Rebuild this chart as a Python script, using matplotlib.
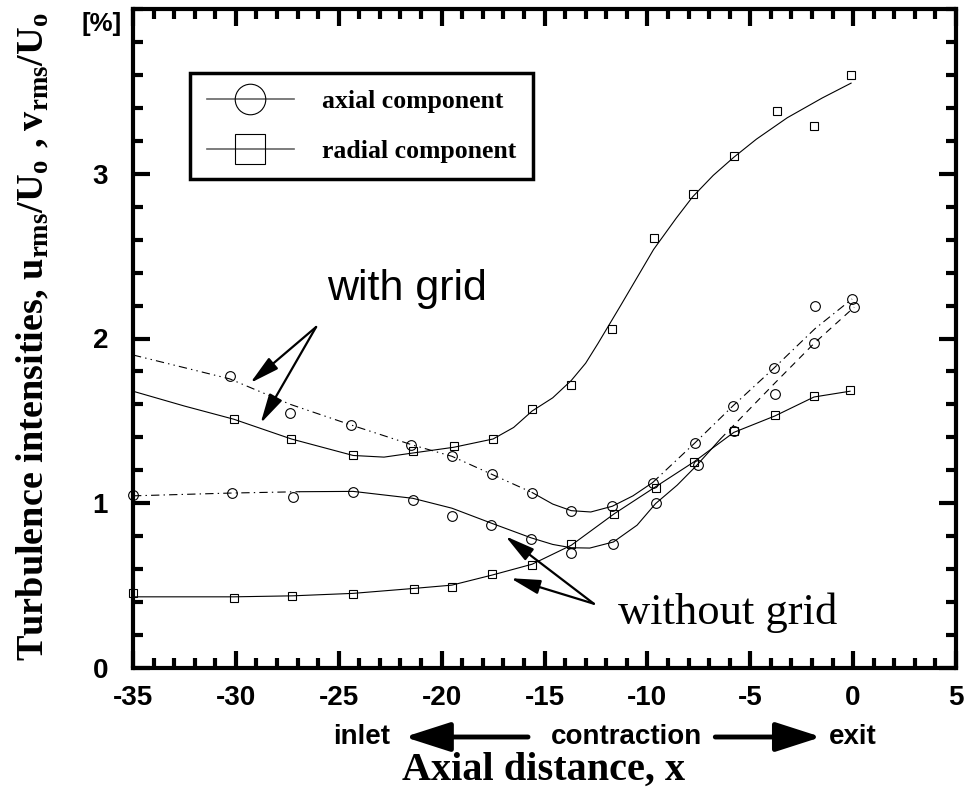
import matplotlib
matplotlib.use("Agg")
import matplotlib.pyplot as plt
from matplotlib.lines import Line2D
from matplotlib.ticker import MultipleLocator, FixedLocator

plt.rcParams["lines.scale_dashes"] = False
plt.rcParams["mathtext.default"] = "regular"
plt.rcParams["axes.unicode_minus"] = False

#%% data
# radial component, with grid (squares)
rg_x = [-30.1, -27.3, -24.3, -21.4, -19.4, -17.5, -15.6, -13.7, -11.7, -9.7, -7.8, -5.8, -3.7, -1.9, -0.1]
rg_y = [1.51, 1.39, 1.29, 1.32, 1.35, 1.39, 1.57, 1.72, 2.06, 2.61, 2.88, 3.11, 3.38, 3.29, 3.60]
rg_fit_x = [-35, -32.5, -30.1, -27.3, -24.3, -22.8, -21.4, -19.4, -17.5, -16.5, -15.6, -14.6, -13.7,
            -13.0, -12.4, -11.3, -10.5, -9.7, -8.6, -7.8, -6.8, -5.8, -4.7, -3.2, -1.5, -0.1]
rg_fit_y = [1.68, 1.59, 1.51, 1.39, 1.29, 1.28, 1.305, 1.34, 1.39, 1.46, 1.56, 1.64, 1.745,
            1.85, 1.97, 2.20, 2.37, 2.54, 2.73, 2.86, 2.99, 3.10, 3.21, 3.34, 3.46, 3.55]

# axial component, with grid (circles)
ag_x = [-30.3, -27.35, -24.4, -21.5, -19.5, -17.55, -15.6, -13.7, -11.7, -9.75, -7.7, -5.85, -3.85, -1.85, -0.05]
ag_y = [1.775, 1.545, 1.475, 1.355, 1.285, 1.175, 1.065, 0.955, 0.985, 1.125, 1.365, 1.59, 1.82, 2.20, 2.24]
ag1_x = [-35, -30.3, -27.35, -24.4, -21.45, -19.5, -17.55, -15.6]
ag1_y = [1.90, 1.755, 1.60, 1.475, 1.355, 1.285, 1.175, 1.065]
ag2_x = [-15.6, -14.6, -13.7, -12.75, -11.7, -10.7, -9.75]
ag2_y = [1.065, 0.995, 0.955, 0.947, 0.982, 1.045, 1.125]
ag3_x = [-9.75, -7.7, -5.85, -3.85, -1.85, -0.05]
ag3_y = [1.125, 1.365, 1.59, 1.82, 2.06, 2.24]

# axial component, without grid (circles)
an_x = [-35, -30.2, -27.2, -24.3, -21.4, -19.5, -17.6, -15.65, -13.7, -11.65, -9.6, -7.55, -5.8, -3.8, -1.9, 0.05]
an_y = [1.05, 1.06, 1.04, 1.07, 1.02, 0.92, 0.87, 0.78, 0.695, 0.755, 1.0, 1.23, 1.44, 1.665, 1.97, 2.19]
an1_x = [-35, -30.2, -26.9]
an1_y = [1.045, 1.062, 1.07]
an2_x = [-26.9, -24.3, -21.4, -19.5, -17.6, -15.65, -14.6, -13.7, -12.8, -11.65, -10.5, -9.6, -8.55, -7.6, -6.45]
an2_y = [1.07, 1.072, 1.03, 0.97, 0.88, 0.79, 0.75, 0.73, 0.728, 0.765, 0.867, 0.998, 1.11, 1.23, 1.39]
an3_x = [-6.45, -3.8, -1.9, 0.05]
an3_y = [1.39, 1.73, 1.97, 2.19]

# radial component, without grid (squares)
rn_x = [-35, -30.1, -27.25, -24.3, -21.35, -19.5, -17.55, -15.6, -13.7, -11.6, -9.6, -7.75, -5.8, -3.8, -1.9, -0.15]
rn_y = [0.455, 0.425, 0.44, 0.447, 0.48, 0.49, 0.568, 0.628, 0.75, 0.937, 1.09, 1.25, 1.438, 1.533, 1.648, 1.685]
rn_fit_x = [-35, -30.1, -27.25, -24.3, -21.35, -19.5, -17.55, -15.6, -13.7, -11.6, -9.6, -7.75, -6.45,
            -5.8, -3.8, -1.9, -0.15]
rn_fit_y = [0.432, 0.432, 0.438, 0.453, 0.483, 0.503, 0.564, 0.63, 0.745, 0.937, 1.10, 1.25, 1.37,
            1.43, 1.53, 1.645, 1.68]

y_labelled = [0, 1, 2, 3]

SANS = "Liberation Sans"
SERIF = "Liberation Serif"
DASHDOTDOT = (0, (6, 3, 1, 3, 1, 3))
DASHDOT = (0, (6, 3, 1, 3))
DASHED = (0, (5, 4))

#%% figure
fig = plt.figure(figsize=(9.67, 7.92), dpi=100)
ax = fig.add_axes([133 / 967, 1 - 668 / 792, (956 - 133) / 967, (668 - 9) / 792])

line_kw = dict(color="black", lw=0.8)
ax.plot(rg_fit_x, rg_fit_y, **line_kw)
ax.plot(ag1_x, ag1_y, ls=DASHDOTDOT, **line_kw)
ax.plot(ag2_x, ag2_y, **line_kw)
ax.plot(ag3_x, ag3_y, ls=DASHDOT, **line_kw)
ax.plot(an1_x, an1_y, ls=DASHDOT, **line_kw)
ax.plot(an2_x, an2_y, **line_kw)
ax.plot(an3_x, an3_y, ls=DASHED, **line_kw)
ax.plot(rn_fit_x, rn_fit_y, **line_kw)

mk_kw = dict(ls="none", mfc="none", mec="black", mew=0.8, clip_on=False)
ax.plot(ag_x, ag_y, marker="o", ms=7, **mk_kw)
ax.plot(an_x, an_y, marker="o", ms=7, **mk_kw)
ax.plot(rg_x, rg_y, marker="s", ms=6, **mk_kw)
ax.plot(rn_x, rn_y, marker="s", ms=6, **mk_kw)

ax.set_xlim(-35, 5)
ax.set_ylim(0, 4)
ax.xaxis.set_major_locator(MultipleLocator(5))
ax.xaxis.set_minor_locator(MultipleLocator(1))
ax.yaxis.set_major_locator(FixedLocator(y_labelled))
ax.yaxis.set_minor_locator(MultipleLocator(0.2))
ax.tick_params(which="both", direction="in", top=True, right=True, width=3)
ax.tick_params(which="major", length=12)
ax.tick_params(which="minor", length=7)
ax.tick_params(axis="x", pad=12)
ax.tick_params(axis="y", pad=18)
for s in ax.spines.values():
    s.set_linewidth(3)
for lab in ax.get_xticklabels() + ax.get_yticklabels():
    lab.set_fontfamily(SANS)
    lab.set_fontweight("bold")
    lab.set_fontsize(20)

# legend
handles = [
    Line2D([], [], color="0.4", lw=1.2, marker="o", ms=22, mfc="none", mec="black", mew=0.8),
    Line2D([], [], color="0.4", lw=1.2, marker="s", ms=22, mfc="none", mec="black", mew=0.8),
]
leg = ax.legend(handles, ["axial component", "radial component"], loc="upper left",
                bbox_to_anchor=(190 / 967, 1 - 73 / 792), bbox_transform=fig.transFigure,
                prop=dict(family=SERIF, weight="bold", size=18.5),
                handlelength=3.4, handletextpad=1.1, labelspacing=1.05,
                borderpad=0.65, borderaxespad=0, fancybox=False, framealpha=1)
leg.get_frame().set_edgecolor("black")
leg.get_frame().set_linewidth(2.5)

# annotations in the plot
arrow_kw = dict(arrowstyle="-|>,head_length=0.9,head_width=0.22", color="black",
                lw=1.6, mutation_scale=20, shrinkA=0, shrinkB=0)
ax.text(-21.66, 2.30, "with grid", family=SANS, fontsize=31, ha="center", va="center")
ax.annotate("", xy=(-29.3, 1.73), xytext=(-26.1, 2.07), arrowprops=arrow_kw)
ax.annotate("", xy=(-28.8, 1.485), xytext=(-26.1, 2.07), arrowprops=arrow_kw)
ax.text(-6.1, 0.335, "without grid", family=SERIF, fontsize=32, ha="center", va="center")
ax.annotate("", xy=(-16.9, 0.80), xytext=(-12.6, 0.39), arrowprops=arrow_kw)
ax.annotate("", xy=(-16.65, 0.545), xytext=(-12.6, 0.39), arrowprops=arrow_kw)

# direction row under the x axis
tr = ax.get_xaxis_transform()
row_y = (668 - 737) / 659
ax.text(-23.9, row_y, "inlet", transform=tr, family=SANS, weight="bold", fontsize=20,
        ha="center", va="center")
ax.text(-11.0, row_y, "contraction", transform=tr, family=SANS, weight="bold", fontsize=20,
        ha="center", va="center")
ax.text(0.0, row_y, "exit", transform=tr, family=SANS, weight="bold", fontsize=20,
        ha="center", va="center")
big_arrow = dict(arrowstyle="-|>,head_length=1.4,head_width=0.45", color="black",
                 lw=3.5, mutation_scale=20, shrinkA=0, shrinkB=0)
ax.annotate("", xy=(-21.8, row_y), xytext=(-15.8, row_y), xycoords=tr, textcoords=tr,
            arrowprops=big_arrow, annotation_clip=False)
ax.annotate("", xy=(-1.55, row_y), xytext=(-6.7, row_y), xycoords=tr, textcoords=tr,
            arrowprops=big_arrow, annotation_clip=False)

# axis titles
fig.text(544 / 967, 1 - 770 / 792, "Axial distance, x", family=SERIF, weight="bold",
         fontsize=29, ha="center", va="center")
fig.text(33 / 967, 1 - 337 / 792,
         r"Turbulence intensities, $u_{rms}/U_o\ ,v_{rms}/U_o$",
         family=SERIF, weight="bold", fontsize=27.5, rotation=90, ha="center", va="center")
fig.text(102 / 967, 1 - 24 / 792, "[%]", family=SANS, weight="bold", fontsize=18.5,
         ha="center", va="center")

fig.savefig("out.png", dpi=100, facecolor="white")
